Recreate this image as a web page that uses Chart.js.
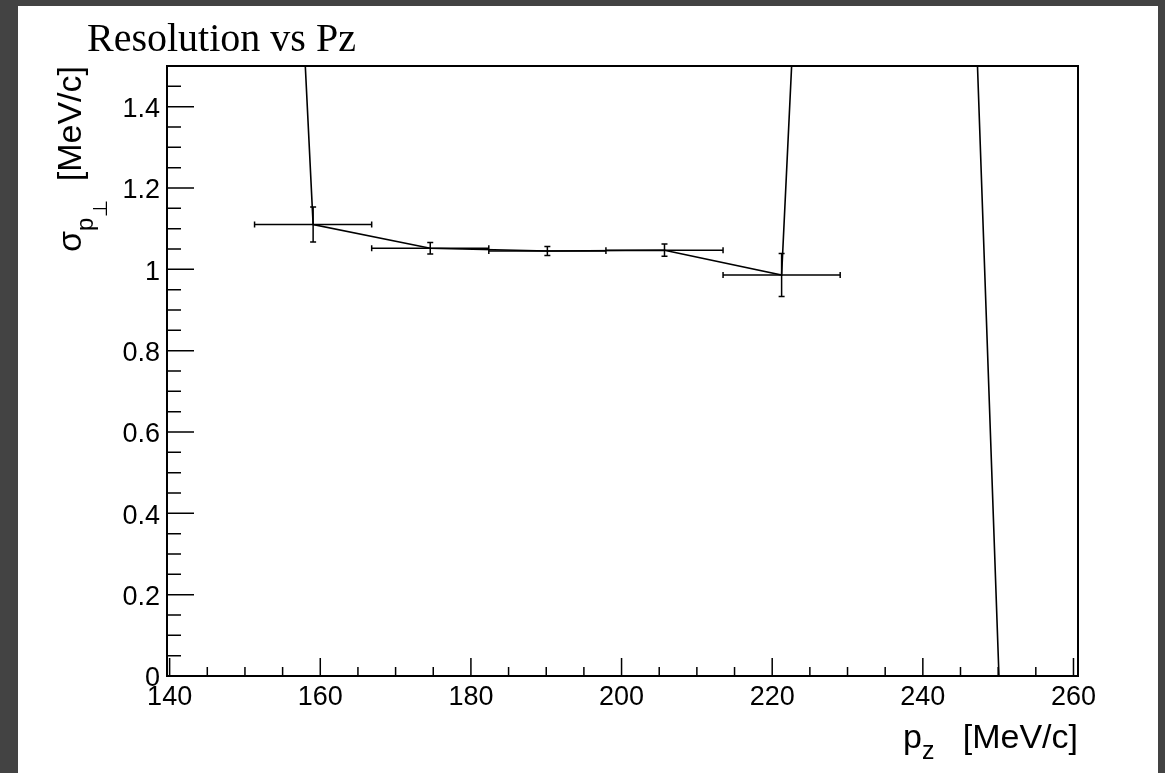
<!DOCTYPE html>
<html>
<head>
<meta charset="utf-8">
<title>Resolution vs Pz</title>
<script src="https://cdn.jsdelivr.net/npm/chart.js@4.4.0/dist/chart.umd.min.js"></script>
<style>
    html, body { margin: 0; padding: 0; background: #434343; overflow: hidden; }
    #panel { position: absolute; left: 18px; top: 6px; width: 1140px; height: 767px; background: #ffffff; }
    #wrap { position: absolute; left: 0; top: 0; width: 1165px; height: 773px; }
</style>
</head>
<body>
<div id="panel"></div>
<div id="wrap"><canvas id="resChart"></canvas></div>
<script>
// Graph points (bin centres, half widths, sigma and its error)
const pz = [143.5, 159.05, 174.6, 190.15, 205.7, 221.25, 236.8, 252.35];
const pzErr = [7.775, 7.775, 7.775, 7.775, 7.775, 7.775, 7.775, 7.775];
const sigma = [6.95, 1.11, 1.052, 1.045, 1.047, 0.986, 7.0, -1.18];
const sigmaErr = [0.3, 0.043, 0.014, 0.011, 0.015, 0.053, 0.3, 0.3];

// Axis ticks
const xTicks = [140, 160, 180, 200, 220, 240, 260];
const xTickLabels = ['140', '160', '180', '200', '220', '240', '260'];
const yTicks = [0, 0.2, 0.4, 0.6, 0.8, 1, 1.2, 1.4];
const yTickLabels = ['0', '0.2', '0.4', '0.6', '0.8', '1', '1.2', '1.4'];
const xMinorStep = 5;
const yMinorStep = 0.05;

const SANS = '"Liberation Sans", Arial, Helvetica, sans-serif';

// ROOT-like frame with ticks pointing into the plot
const rootFrame = {
    id: 'rootFrame',
    afterDraw(chart) {
        const { ctx, chartArea: a, scales: { x, y } } = chart;
        ctx.save();
        ctx.strokeStyle = '#000';
        ctx.lineWidth = 1.5;
        ctx.beginPath();
        // x ticks (major + minor)
        const x0 = Math.ceil(x.min / xMinorStep) * xMinorStep;
        for (let v = x0; v <= x.max + 1e-9; v += xMinorStep) {
            const px = x.getPixelForValue(v);
            const major = xTicks.some(t => Math.abs(t - v) < 1e-6);
            ctx.moveTo(px, a.bottom);
            ctx.lineTo(px, a.bottom - (major ? 18 : 9));
        }
        // y ticks
        for (let v = 0; v <= y.max + 1e-9; v += yMinorStep) {
            const py = y.getPixelForValue(v);
            const major = yTicks.some(t => Math.abs(t - v) < 1e-6);
            ctx.moveTo(a.left, py);
            ctx.lineTo(a.left + (major ? 27 : 14), py);
        }
        ctx.stroke();
        ctx.lineWidth = 2;
        ctx.strokeRect(a.left, a.top, a.right - a.left, a.bottom - a.top);
        ctx.restore();
    }
};

// Error bars with small end caps, clipped to the frame
const errorBars = {
    id: 'errorBars',
    afterDatasetsDraw(chart) {
        const { ctx, chartArea: a, scales: { x, y } } = chart;
        const cap = 3;
        ctx.save();
        ctx.beginPath();
        ctx.rect(a.left, a.top, a.right - a.left, a.bottom - a.top);
        ctx.clip();
        ctx.strokeStyle = '#000';
        ctx.lineWidth = 1.5;
        ctx.beginPath();
        pz.forEach((v, i) => {
            const px = x.getPixelForValue(v);
            const py = y.getPixelForValue(sigma[i]);
            const xl = x.getPixelForValue(v - pzErr[i]);
            const xr = x.getPixelForValue(v + pzErr[i]);
            const yt = y.getPixelForValue(sigma[i] + sigmaErr[i]);
            const yb = y.getPixelForValue(sigma[i] - sigmaErr[i]);
            ctx.moveTo(xl, py); ctx.lineTo(xr, py);
            ctx.moveTo(xl, py - cap); ctx.lineTo(xl, py + cap);
            ctx.moveTo(xr, py - cap); ctx.lineTo(xr, py + cap);
            ctx.moveTo(px, yt); ctx.lineTo(px, yb);
            ctx.moveTo(px - cap, yt); ctx.lineTo(px + cap, yt);
            ctx.moveTo(px - cap, yb); ctx.lineTo(px + cap, yb);
        });
        ctx.stroke();
        ctx.restore();
    }
};

// text made of pieces (subscripts), right aligned on endX at baseline 0
function drawPieces(ctx, pieces, endX) {
    let w = 0;
    pieces.forEach(p => {
        ctx.font = p.size + 'px ' + (p.family || SANS);
        p.w = ctx.measureText(p.t).width;
        w += p.w;
    });
    let cx = endX - w;
    pieces.forEach(p => {
        ctx.font = p.size + 'px ' + (p.family || SANS);
        ctx.fillText(p.t, cx, p.dy);
        cx += p.w;
    });
}

const titles = {
    id: 'titles',
    afterDraw(chart) {
        const { ctx, chartArea: a } = chart;
        ctx.save();
        ctx.fillStyle = '#000';
        ctx.textAlign = 'left';
        ctx.textBaseline = 'alphabetic';
        ctx.font = '40px "Liberation Serif", "Times New Roman", serif';
        ctx.fillText('Resolution vs Pz', 87, 51);

        // x title: p_z [MeV/c]
        ctx.save();
        ctx.translate(0, 748);
        drawPieces(ctx, [
            { t: 'p', size: 34, dy: 0 },
            { t: 'z', size: 25, dy: 11 },
            { t: '   [MeV/c]', size: 34, dy: 0 }
        ], a.right);
        ctx.restore();

        // y title: sigma_{p_perp} [MeV/c], rotated, right aligned at top of frame
        ctx.save();
        ctx.translate(81, a.top);
        ctx.rotate(-Math.PI / 2);
        drawPieces(ctx, [
            { t: 'σ', size: 34, dy: 0 },
            { t: 'p', size: 24, dy: 12 },
            { t: '⊥', size: 20, dy: 26, family: '"DejaVu Sans", sans-serif' },
            { t: '  [MeV/c]', size: 34, dy: 0 }
        ], 0);
        ctx.restore();
        ctx.restore();
    }
};

const ctx = document.getElementById('resChart').getContext('2d');
new Chart(ctx, {
    type: 'scatter',
    data: {
        datasets: [{
            data: pz.map((v, i) => ({ x: v, y: sigma[i] })),
            showLine: true,
            borderColor: '#000',
            borderWidth: 1.6,
            pointRadius: 0,
            pointHoverRadius: 0,
            tension: 0,
            fill: false
        }]
    },
    options: {
        responsive: true,
        maintainAspectRatio: false,
        animation: false,
        events: [],
        layout: { padding: { left: 107, top: 66, right: 87, bottom: 47 } },
        plugins: {
            legend: { display: false },
            tooltip: { enabled: false },
            title: { display: false }
        },
        scales: {
            x: {
                type: 'linear',
                min: 139.65,
                max: 260.6,
                grid: { display: false, drawTicks: false, tickLength: 0 },
                border: { display: false },
                afterBuildTicks: s => { s.ticks = xTicks.map(v => ({ value: v })); },
                afterFit: s => { s.height = 50; },
                ticks: {
                    color: '#000',
                    font: { family: SANS, size: 27 },
                    padding: 5,
                    maxRotation: 0,
                    autoSkip: false,
                    callback: (v, i) => xTickLabels[i]
                }
            },
            y: {
                type: 'linear',
                min: 0,
                max: 1.5,
                grid: { display: false, drawTicks: false, tickLength: 0 },
                border: { display: false },
                afterBuildTicks: s => { s.ticks = yTicks.map(v => ({ value: v })); },
                afterFit: s => { s.width = 60; },
                ticks: {
                    color: '#000',
                    font: { family: SANS, size: 27 },
                    padding: 7,
                    labelOffset: 3,
                    autoSkip: false,
                    callback: (v, i) => yTickLabels[i]
                }
            }
        }
    },
    plugins: [rootFrame, errorBars, titles]
});
</script>
</body>
</html>
